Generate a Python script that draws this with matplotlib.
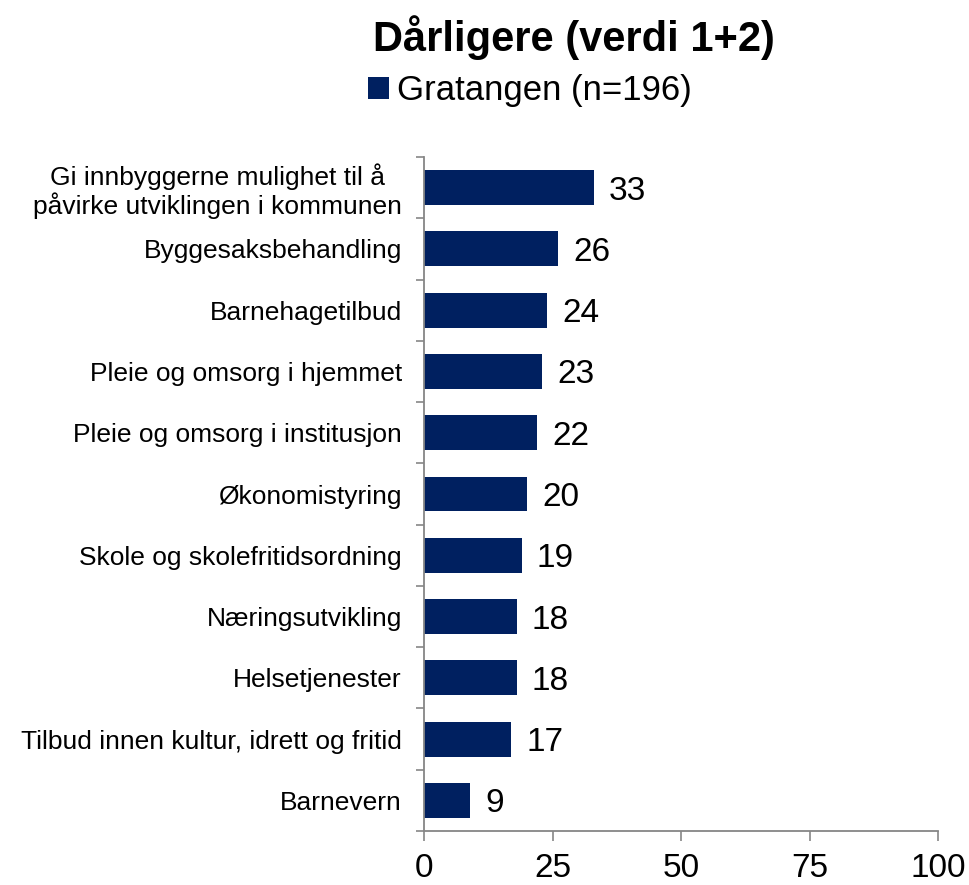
import numpy as np
import matplotlib.pyplot as plt

plt.rcParams['font.family'] = ['Liberation Sans', 'DejaVu Sans']

categories = [
    "Gi innbyggerne mulighet til å\npåvirke utviklingen i kommunen",
    "Byggesaksbehandling",
    "Barnehagetilbud",
    "Pleie og omsorg i hjemmet",
    "Pleie og omsorg i institusjon",
    "Økonomistyring",
    "Skole og skolefritidsordning",
    "Næringsutvikling",
    "Helsetjenester",
    "Tilbud innen kultur, idrett og fritid",
    "Barnevern",
]
values = [33, 26, 24, 23, 22, 20, 19, 18, 18, 17, 9]
series_name = "Gratangen (n=196)"
title = "Dårligere (verdi 1+2)"
xticks = [0, 25, 50, 75, 100]

bar_color = "#002060"
axis_color = "#868686"

fig = plt.figure(figsize=(9.69, 8.85), dpi=100)
ax = fig.add_axes([0.4376, 0.061, 0.968 - 0.4376, 0.8226 - 0.061])

n = len(categories)
y = np.arange(n)
bars = ax.barh(y, values, height=0.57, color=bar_color, label=series_name)

ax.set_xlim(0, 100)
ax.set_ylim(n - 0.5, -0.5)

for yi, v in zip(y, values):
    ax.annotate(str(v), xy=(v, yi), xytext=(11, 0), textcoords="offset points",
                ha="left", va="center_baseline", fontsize=24, color="black")

ax.set_yticks(y)
ax.set_yticklabels(categories, fontsize=19, linespacing=1.1, multialignment="center")
ax.tick_params(axis="y", which="major", length=0, pad=16)
ax.set_yticks(np.arange(n + 1) - 0.5, minor=True)
ax.tick_params(axis="y", which="minor", length=6, width=1.2, color=axis_color, direction="out")

ax.set_xticks(xticks)
ax.set_xticklabels([str(t) for t in xticks], fontsize=24)
ax.tick_params(axis="x", length=7, width=1.2, color=axis_color, direction="out", pad=9)

for side in ["top", "right"]:
    ax.spines[side].set_visible(False)
for side in ["left", "bottom"]:
    ax.spines[side].set_color(axis_color)
    ax.spines[side].set_linewidth(1.3)

fig.text(0.592, 0.957, title, ha="center", va="center", fontsize=30, fontweight="bold")
fig.legend(handles=[bars], labels=[series_name], loc="center", bbox_to_anchor=(0.547, 0.898),
           frameon=False, fontsize=25, handlelength=0.6, handleheight=0.6,
           handletextpad=0.25, borderpad=0)

fig.savefig("out.png", dpi=100)
